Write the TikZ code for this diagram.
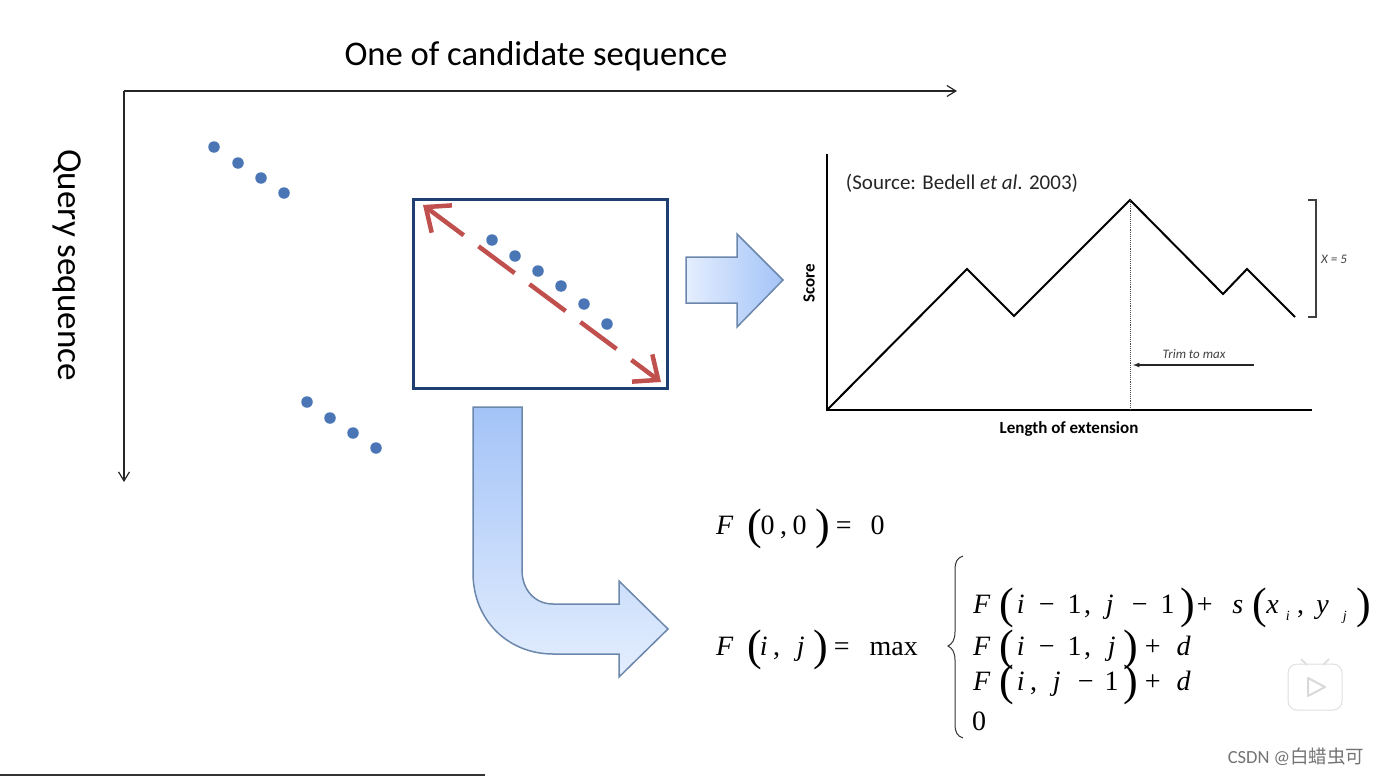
\documentclass[tikz,border=0pt]{standalone}
\usepackage{fontspec}
\setmainfont{Carlito}
\newfontfamily\formulafont{Liberation Serif}
\newfontfamily\markfont{Noto Sans CJK SC}
\usetikzlibrary{positioning, arrows.meta}
\definecolor{boxblue}{HTML}{1F3F73}
\definecolor{dotblue}{HTML}{4A76B5}
\definecolor{dashred}{HTML}{C0504D}
\definecolor{arrowedge}{HTML}{6C87AC}
\definecolor{arrowdeep}{HTML}{A3C3F7}
\definecolor{arrowpale}{HTML}{E4EEFE}
\tikzstyle{every node}=[inner sep=0pt]
\tikzstyle{axisline}=[line width=1.2pt, draw=black!85, -{Straight Barb[length=9pt,width=11pt]}]
\tikzstyle{seqdot}=[circle, fill=dotblue, minimum size=11.5pt]
\tikzstyle{chartaxis}=[line width=2.4pt, black]
\tikzstyle{fatarrow}=[line width=1.5pt, draw=arrowedge, line join=miter]
\tikzstyle{formula}=[anchor=base west, font=\formulafont\fontsize{28}{28}\selectfont]
\newcommand{\tk}[2]{\rlap{\hspace{#1pt}\makebox[0pt]{#2}}}
\newcommand{\lpar}{\raisebox{-5pt}{\fontsize{44}{44}\selectfont(}}
\newcommand{\rpar}{\raisebox{-5pt}{\fontsize{44}{44}\selectfont)}}
\newcommand{\sm}[1]{\raisebox{-7pt}{\fontsize{14}{14}\selectfont\textit{#1}}}

\begin{document}
\begin{tikzpicture}[x=1pt, y=-1pt, >=latex]
    \useasboundingbox (0,0) rectangle (1379,776);
    \node[font=\fontsize{34.6}{34.6}\selectfont] (title) at (536,56) {One of candidate sequence};
    \node[font=\fontsize{35}{35}\selectfont, rotate=-90] (query) at (67,265) {Query sequence};
    \coordinate (corner) at (124,91);
    \coordinate (xend) at (957,91);
    \coordinate (yend) at (124,482);
    \draw[axisline] (corner) -- (xend);
    \draw[axisline] (corner) -- (yend);
    \foreach \x/\y [count=\i] in {214/147, 238/163, 261/178, 284/193, 307/402, 330/418, 353/433, 376/448}
        \node[seqdot] (d\i) at (\x,\y) {};
    \node[draw=boxblue, line width=3pt, minimum width=254pt, minimum height=189pt] (window) at (540.5,294) {};
    \coordinate (dstart) at (423,205);
    \coordinate (dend) at (661,382);
    \draw[line width=4.5pt, dashred, dash pattern=on 45pt off 18.5pt,
        {Straight Barb[length=20pt,width=34pt]}-{Straight Barb[length=20pt,width=34pt]}] (dstart) -- (dend);
    \foreach \x/\y [count=\i] in {492/240, 515/256, 538/271, 561/286, 584/304, 607/324}
        \node[seqdot] (w\i) at (\x,\y) {};
    \draw[fatarrow, left color=arrowpale, right color=arrowdeep]
        (686,257) -- (737,257) -- (737,234) -- (783,280) -- (737,327) -- (737,303) -- (686,303) -- cycle;
    \draw[fatarrow, top color=arrowdeep, bottom color=arrowpale]
        (473,407) -- (522,407) -- (522,570) .. controls (522,590) and (535,604) .. (553,604)
        -- (619,604) -- (619,581) -- (668,629) -- (619,677) -- (619,654) -- (553,654)
        .. controls (508,654) and (473,620) .. (473,573) -- cycle;
    % score plot
    \coordinate (origin) at (827,410);
    \coordinate (ytop) at (827,154);
    \coordinate (xright) at (1312,410);
    \coordinate (peak) at (1130,200);
    \coordinate (foot) at (1130,410);
    \draw[chartaxis] (ytop) -- (origin) -- (xright);
    \draw[line width=2pt] (origin) -- (967,269) -- (1014,316) -- (peak) -- (1223,294) -- (1247,269) -- (1295,317);
    \draw[line width=0.9pt, densely dotted, black!70] (peak) -- (foot);
    \draw[line width=1.2pt, black!75] (1308,200) -- (1316,200) -- (1316,317) -- (1308,317);
    \coordinate (trimstart) at (1254,365);
    \coordinate (trimend) at (1133,365);
    \draw[->, line width=1.2pt, black!85] (trimstart) -- (trimend);
    \node[font=\fontsize{21}{21}\selectfont, black!85] (source) at (962,183) {(Source: Bedell \textit{et al}. 2003)};
    \node[font=\bfseries\fontsize{17}{17}\selectfont, rotate=90] (score) at (809,283) {Score};
    \node[font=\bfseries\fontsize{17}{17}\selectfont] (length) at (1069,429) {Length of extension};
    \node[font=\itshape\fontsize{13}{13}\selectfont, black!75] (trim) at (1194,354) {Trim to max};
    \node[font=\itshape\fontsize{13}{13}\selectfont, black!75] (xs) at (1334,259) {X = 5};
    % formulas
    \node[formula] (f00) at (714,534) {\tk{10}{\textit{F}}\tk{40}{\lpar}\tk{53}{0}\tk{69}{,}\tk{85}{0}\tk{108}{\rpar}\tk{129}{=}\tk{163}{0}\hspace{171pt}};
    \node[formula] (fij) at (714,655) {\tk{10}{\textit{F}}\tk{40}{\lpar}\tk{49}{\textit{i}}\tk{62}{,}\tk{86}{\textit{j}}\tk{106}{\rpar}\tk{127}{=}\tk{179}{max}\hspace{204pt}};
    \node[formula] (r1) at (972,613) {\tk{9}{\textit{F}}\tk{34}{\lpar}\tk{48}{\textit{i}}\tk{74}{−}\tk{102}{1}\tk{115}{,}\tk{137}{\textit{j}}\tk{167}{−}\tk{195}{1}\tk{215}{\rpar}\tk{232}{+}\tk{265}{\textit{s}}\tk{287}{\lpar}\tk{300}{\textit{x}}\tk{315}{\sm{i}}\tk{328}{,}\tk{350}{\textit{y}}\tk{372}{\sm{j}}\tk{391}{\rpar}\hspace{396pt}};
    \node[formula] (r2) at (972,655) {\tk{9}{\textit{F}}\tk{34}{\lpar}\tk{48}{\textit{i}}\tk{74}{−}\tk{102}{1}\tk{115}{,}\tk{139}{\textit{j}}\tk{158}{\rpar}\tk{180}{+}\tk{211}{\textit{d}}\hspace{219pt}};
    \node[formula] (r3) at (972,690) {\tk{9}{\textit{F}}\tk{34}{\lpar}\tk{48}{\textit{i}}\tk{61}{,}\tk{84}{\textit{j}}\tk{113}{−}\tk{139}{1}\tk{158}{\rpar}\tk{180}{+}\tk{211}{\textit{d}}\hspace{219pt}};
    \node[formula] (r4) at (972,730) {0};
    \coordinate (bracetop) at (963,556);
    \coordinate (bracemid) at (948,646);
    \coordinate (bracebot) at (963,738);
    \draw[line width=1pt, black!80] (bracetop) .. controls (957,558) and (955,562) .. (955,570) -- (955,632)
        .. controls (955,640) and (952,644) .. (bracemid) .. controls (952,648) and (955,652) .. (955,660)
        -- (955,724) .. controls (955,732) and (957,736) .. (bracebot);
    % player badge and watermark
    \node[draw=black!12, line width=1pt, fill=white, rounded corners=9pt, minimum width=54pt, minimum height=46pt] (badge) at (1315,687) {};
    \draw[line width=2pt, black!12] (1301,659) -- (1307,665) (1329,659) -- (1323,665);
    \draw[line width=2pt, black!15, line join=round] (1308,678) -- (1325,687) -- (1308,696) -- cycle;
    \node[font=\fontsize{18.5}{18.5}\selectfont, text=black!55] (mark) at (1296,757) {CSDN @{\markfont 白蜡虫可}};
    \coordinate (rulea) at (0,775);
    \coordinate (ruleb) at (485,775);
    \draw[line width=1.5pt, black!80] (rulea) -- (ruleb);
\end{tikzpicture}
\end{document}
